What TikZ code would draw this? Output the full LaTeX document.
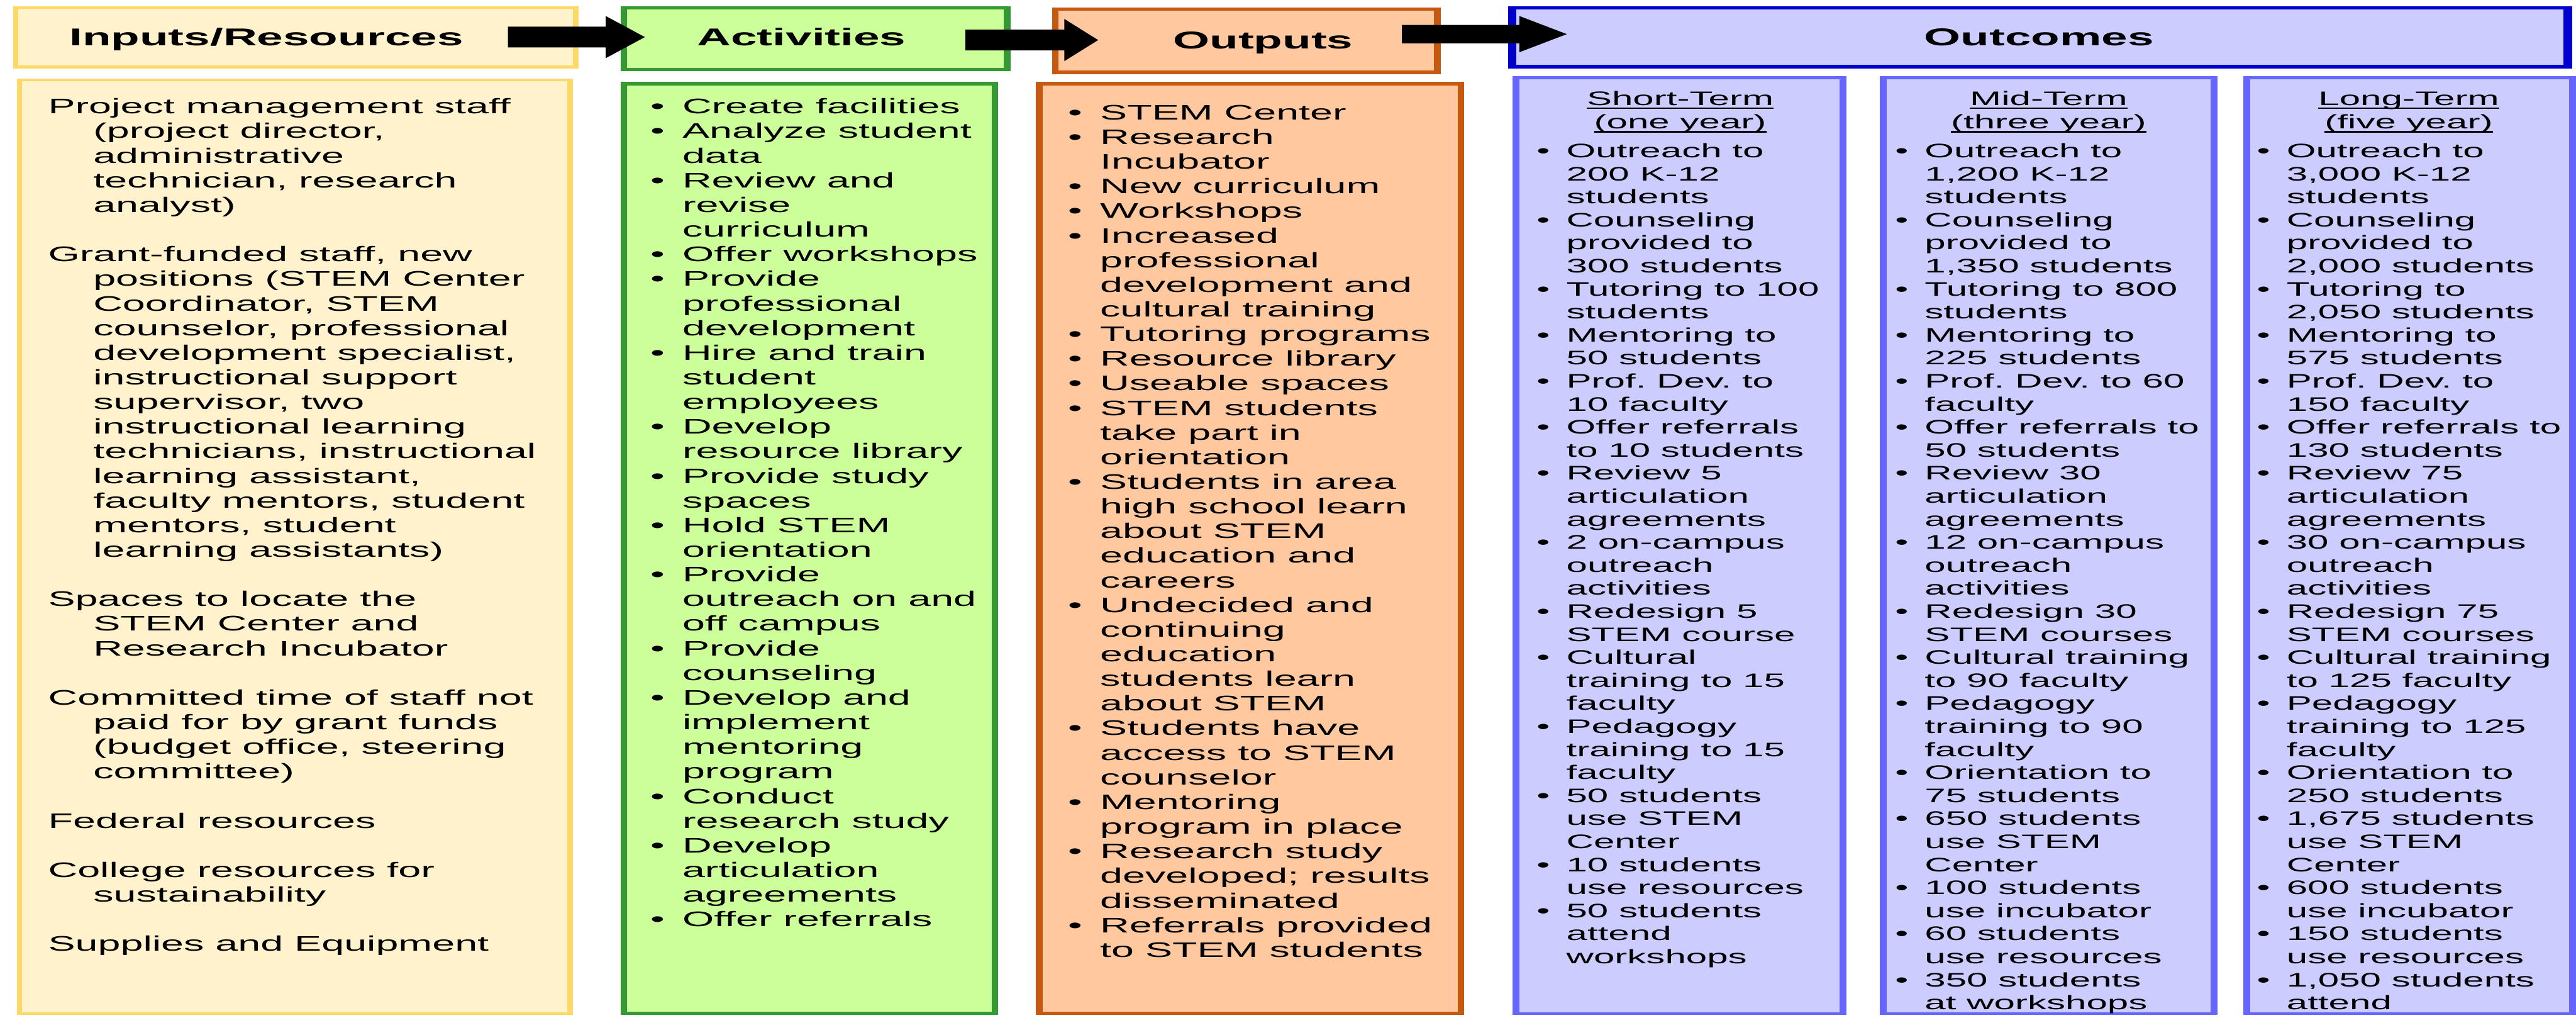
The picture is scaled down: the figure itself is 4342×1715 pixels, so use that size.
\documentclass[tikz,border=0pt]{standalone}
\usepackage{fontspec}
\setmainfont{Liberation Sans}[FakeStretch=1.93]
\usetikzlibrary{calc}
\definecolor{inFill}{HTML}{FFF2CC}
\definecolor{inBorder}{HTML}{FFD966}
\definecolor{acFill}{HTML}{CCFF99}
\definecolor{acBorder}{HTML}{339933}
\definecolor{ouFill}{HTML}{FFC89F}
\definecolor{ouBorder}{HTML}{C65911}
\definecolor{ocFill}{HTML}{CCCCFF}
\definecolor{ocBorder}{HTML}{0000CC}
\definecolor{subBorder}{HTML}{6666FF}
\newlength\bind
\newcommand\bigfont{\fontsize{35.5}{41.5}\selectfont\frenchspacing\spaceskip=0.537em\relax\xspaceskip=0.537em\relax\parindent=0pt\parskip=0pt}
\newcommand\smfont{\fontsize{33}{38.8}\selectfont\frenchspacing\spaceskip=0.537em\relax\xspaceskip=0.537em\relax\parindent=0pt\parskip=0pt}
\newcommand\pitem[1]{\par\hangindent=76pt\hangafter=1\noindent\strut#1\par}
\newcommand\bitem[1]{\par\hangindent=\bind\hangafter=1\noindent\strut\makebox[\bind][l]{•}#1\par}
\newcommand\ulx[1]{\setbox0\hbox{#1}\rlap{\rule[-6pt]{\wd0}{2.6pt}}\box0}
\newcommand\blockarr[5]{%
  \fill[black] let \p1=(#1), \p2=(#2) in
    (\x1,\y1+#3) -- (\x2-#5,\y1+#3) -- (\x2-#5,\y1+#4) -- (\x2,\y1)
    -- (\x2-#5,\y1-#4) -- (\x2-#5,\y1-#3) -- (\x1,\y1-#3) -- cycle;}
\tikzset{
  boxx/.style n args={4}{draw=none, rectangle, inner sep=0pt, anchor=north west, fill=#2,
    path picture={\fill[#1] ([xshift=#3, yshift=-#4]path picture bounding box.north west)
      rectangle ([xshift=-#3, yshift=#4]path picture bounding box.south east);}},
  txt/.style={inner sep=0pt, text=black},
  hdr/.style={inner sep=0pt, text=black, anchor=base, font=\bfseries\fontsize{41}{49}\selectfont},
}
\begin{document}
\begin{tikzpicture}[x=1pt, y=-1pt]
\useasboundingbox (0,0) rectangle (4342,1715);
\fill[white] (0,0) rectangle (4342,1715);

% header boxes
\node[boxx={inFill}{inBorder}{9pt}{5pt}, minimum width=953pt, minimum height=105pt] (inH) at (22,10) {};
\node[boxx={acFill}{acBorder}{11pt}{6pt}, minimum width=657pt, minimum height=110pt] (acH) at (1046,10) {};
\node[boxx={ouFill}{ouBorder}{11pt}{6pt}, minimum width=655pt, minimum height=113pt] (ouH) at (1773,12) {};
\node[boxx={ocFill}{ocBorder}{14pt}{6pt}, minimum width=1793pt, minimum height=105pt] (ocH) at (2542,10) {};

% body boxes
\node[boxx={inFill}{inBorder}{9pt}{5pt}, minimum width=937pt, minimum height=1578pt] (inB) at (28,132) {};
\node[boxx={acFill}{acBorder}{11pt}{6pt}, minimum width=636pt, minimum height=1572pt] (acB) at (1046,138) {};
\node[boxx={ouFill}{ouBorder}{11pt}{6pt}, minimum width=722pt, minimum height=1572pt] (ouB) at (1746,138) {};
\node[boxx={ocFill}{subBorder}{12pt}{5pt}, minimum width=563pt, minimum height=1582pt] (stB) at (2549,128) {};
\node[boxx={ocFill}{subBorder}{12pt}{5pt}, minimum width=570pt, minimum height=1582pt] (mtB) at (3168,128) {};
\node[boxx={ocFill}{subBorder}{12pt}{5pt}, minimum width=561pt, minimum height=1582pt] (ltB) at (3781,128) {};

% block arrows
\coordinate (a1s) at (856,62.5);
\coordinate (a1t) at (1087,62.5);
\coordinate (a2s) at (1627,67.5);
\coordinate (a2t) at (1851,67.5);
\coordinate (a3s) at (2363,57.5);
\coordinate (a3t) at (2641,57.5);
\blockarr{a1s}{a1t}{17.5pt}{35.5pt}{66pt}
\blockarr{a2s}{a2t}{17.5pt}{35.5pt}{57pt}
\blockarr{a3s}{a3t}{15.5pt}{30.5pt}{80pt}

% header texts
\node[hdr] (inHt) at (449,77) {Inputs/Resources};
\node[hdr] (acHt) at (1351,77) {Activities};
\node[hdr] (ouHt) at (2129,82) {Outputs};
\node[hdr] (ocHt) at (3437,77) {Outcomes};

% inputs text
\node[txt, text width=1000pt, anchor=north west] (inT) at (81,150) {\bigfont
\pitem{Project management staff\newline (project director,\newline administrative\newline technician, research\newline analyst)}
\vspace{41.5pt}
\pitem{Grant-funded staff, new\newline positions (STEM Center\newline Coordinator, STEM\newline counselor, professional\newline development specialist,\newline instructional support\newline supervisor, two\newline instructional learning\newline technicians, instructional\newline learning assistant,\newline faculty mentors, student\newline mentors, student\newline learning assistants)}
\vspace{41.5pt}
\pitem{Spaces to locate the\newline STEM Center and\newline Research Incubator}
\vspace{41.5pt}
\pitem{Committed time of staff not\newline paid for by grant funds\newline (budget office, steering\newline committee)}
\vspace{41.5pt}
\pitem{Federal resources}
\vspace{41.5pt}
\pitem{College resources for\newline sustainability}
\vspace{41.5pt}
\pitem{Supplies and Equipment}};

% activities text
\node[txt, text width=700pt, anchor=north west] (acT) at (1096,150) {\bigfont\setlength\bind{54pt}%
\bitem{Create facilities}
\bitem{Analyze student\newline data}
\bitem{Review and\newline revise\newline curriculum}
\bitem{Offer workshops}
\bitem{Provide\newline professional\newline development}
\bitem{Hire and train\newline student\newline employees}
\bitem{Develop\newline resource library}
\bitem{Provide study\newline spaces}
\bitem{Hold STEM\newline orientation}
\bitem{Provide\newline outreach on and\newline off campus}
\bitem{Provide\newline counseling}
\bitem{Develop and\newline implement\newline mentoring\newline program}
\bitem{Conduct\newline research study}
\bitem{Develop\newline articulation\newline agreements}
\bitem{Offer referrals}};

% outputs text
\node[txt, text width=750pt, anchor=north west] (ouT) at (1800,160) {\bigfont\setlength\bind{54pt}%
\bitem{STEM Center}
\bitem{Research\newline Incubator}
\bitem{New curriculum}
\bitem{Workshops}
\bitem{Increased\newline professional\newline development and\newline cultural training}
\bitem{Tutoring programs}
\bitem{Resource library}
\bitem{Useable spaces}
\bitem{STEM students\newline take part in\newline orientation}
\bitem{Students in area\newline high school learn\newline about STEM\newline education and\newline careers}
\bitem{Undecided and\newline continuing\newline education\newline students learn\newline about STEM}
\bitem{Students have\newline access to STEM\newline counselor}
\bitem{Mentoring\newline program in place}
\bitem{Research study\newline developed; results\newline disseminated}
\bitem{Referrals provided\newline to STEM students}};

% outcome headings
\node[txt, text width=560pt, align=center, anchor=north] (stHd) at (2832,150) {\smfont\strut\ulx{Short-Term}\\\strut\ulx{(one year)}};
\node[txt, text width=560pt, align=center, anchor=north] (mtHd) at (3453,150) {\smfont\strut\ulx{Mid-Term}\\\strut\ulx{(three year)}};
\node[txt, text width=560pt, align=center, anchor=north] (ltHd) at (4060,150) {\smfont\strut\ulx{Long-Term}\\\strut\ulx{(five year)}};

% short-term
\node[txt, text width=560pt, anchor=north west] (stT) at (2590,226.44) {\smfont\setlength\bind{50pt}%
\bitem{Outreach to\newline 200 K-12\newline students}
\bitem{Counseling\newline provided to\newline 300 students}
\bitem{Tutoring to 100\newline students}
\bitem{Mentoring to\newline 50 students}
\bitem{Prof. Dev. to\newline 10 faculty}
\bitem{Offer referrals\newline to 10 students}
\bitem{Review 5\newline articulation\newline agreements}
\bitem{2 on-campus\newline outreach\newline activities}
\bitem{Redesign 5\newline STEM course}
\bitem{Cultural\newline training to 15\newline faculty}
\bitem{Pedagogy\newline training to 15\newline faculty}
\bitem{50 students\newline use STEM\newline Center}
\bitem{10 students\newline use resources}
\bitem{50 students\newline attend\newline workshops}};

% mid-term
\node[txt, text width=560pt, anchor=north west] (mtT) at (3194,226.44) {\smfont\setlength\bind{50pt}%
\bitem{Outreach to\newline 1,200 K-12\newline students}
\bitem{Counseling\newline provided to\newline 1,350 students}
\bitem{Tutoring to 800\newline students}
\bitem{Mentoring to\newline 225 students}
\bitem{Prof. Dev. to 60\newline faculty}
\bitem{Offer referrals to\newline 50 students}
\bitem{Review 30\newline articulation\newline agreements}
\bitem{12 on-campus\newline outreach\newline activities}
\bitem{Redesign 30\newline STEM courses}
\bitem{Cultural training\newline to 90 faculty}
\bitem{Pedagogy\newline training to 90\newline faculty}
\bitem{Orientation to\newline 75 students}
\bitem{650 students\newline use STEM\newline Center}
\bitem{100 students\newline use incubator}
\bitem{60 students\newline use resources}
\bitem{350 students\newline at workshops}};

% long-term
\node[txt, text width=560pt, anchor=north west] (ltT) at (3804,226.44) {\smfont\setlength\bind{50pt}%
\bitem{Outreach to\newline 3,000 K-12\newline students}
\bitem{Counseling\newline provided to\newline 2,000 students}
\bitem{Tutoring to\newline 2,050 students}
\bitem{Mentoring to\newline 575 students}
\bitem{Prof. Dev. to\newline 150 faculty}
\bitem{Offer referrals to\newline 130 students}
\bitem{Review 75\newline articulation\newline agreements}
\bitem{30 on-campus\newline outreach\newline activities}
\bitem{Redesign 75\newline STEM courses}
\bitem{Cultural training\newline to 125 faculty}
\bitem{Pedagogy\newline training to 125\newline faculty}
\bitem{Orientation to\newline 250 students}
\bitem{1,675 students\newline use STEM\newline Center}
\bitem{600 students\newline use incubator}
\bitem{150 students\newline use resources}
\bitem{1,050 students\newline attend}};
\end{tikzpicture}
\end{document}
